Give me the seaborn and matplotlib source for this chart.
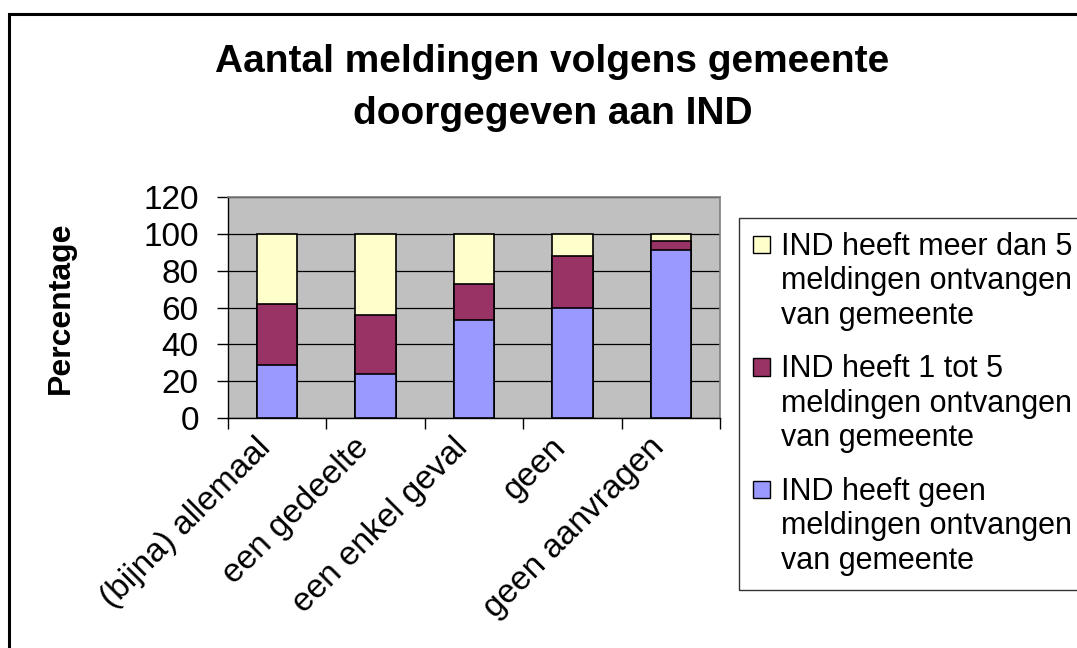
import matplotlib
matplotlib.use("Agg")
import matplotlib.pyplot as plt
import matplotlib.transforms as mtransforms
from matplotlib.patches import Rectangle
from matplotlib.legend_handler import HandlerPatch
import numpy as np
import pandas as pd
import seaborn as sns

categories = ["(bijna) allemaal", "een gedeelte", "een enkel geval", "geen", "geen aanvragen"]
geen = [29, 24, 53, 60, 91]          # IND heeft geen meldingen
een_tot_vijf = [33, 32, 20, 28, 5]   # IND heeft 1 tot 5 meldingen
meer_dan_vijf = [38, 44, 27, 12, 4]  # IND heeft meer dan 5 meldingen

series_labels = [
    "IND heeft meer dan 5\nmeldingen ontvangen\nvan gemeente",
    "IND heeft 1 tot 5\nmeldingen ontvangen\nvan gemeente",
    "IND heeft geen\nmeldingen ontvangen\nvan gemeente",
]
colors = ["#FFFFCC", "#993366", "#9999FF"]

sns.set_style("white")
plt.rcParams["font.family"] = ["Liberation Sans", "DejaVu Sans"]
plt.rcParams["text.color"] = "black"
plt.rcParams["xtick.color"] = "black"
plt.rcParams["ytick.color"] = "black"
plt.rcParams["axes.labelcolor"] = "black"

df = pd.DataFrame({
    "cat": categories,
    "blue": geen,
    "red": een_tot_vijf,
    "yellow": meer_dan_vijf,
})
# cumulative heights, drawn back to front
df["top_red"] = df["blue"] + df["red"]
df["top_yellow"] = df["top_red"] + df["yellow"]

fig = plt.figure(figsize=(10.77, 6.48), dpi=100)
ax = fig.add_axes([228 / 1077, 1 - 418 / 648, 492 / 1077, 221 / 648])
ax.set_facecolor("#C0C0C0")

for col, color in zip(["top_yellow", "top_red", "blue"], colors):
    sns.barplot(data=df, x="cat", y=col, color=color, width=0.41,
                edgecolor="black", linewidth=1.2, saturation=1, ax=ax, zorder=3)

ax.set_ylim(0, 120)
ax.set_xlim(-0.5, len(categories) - 0.5)
ax.set_yticks(np.arange(0, 121, 20))
ax.yaxis.grid(True, color="black", linewidth=0.9, zorder=0)
ax.set_axisbelow(True)

for side in ["top", "right"]:
    ax.spines[side].set_color("#808080")
    ax.spines[side].set_linewidth(1.2)
for side in ["left", "bottom"]:
    ax.spines[side].set_color("black")
    ax.spines[side].set_linewidth(1.0)

ax.tick_params(axis="y", direction="out", length=8, width=1, labelsize=24, pad=13, left=True)
ax.set_xticks(range(len(categories)))
ax.set_xticklabels(categories, rotation=45, ha="right", rotation_mode="anchor", fontsize=24)
ax.tick_params(axis="x", length=0, pad=10)
shift = mtransforms.ScaledTranslation(-22 / 100, 0, fig.dpi_scale_trans)
for lbl in ax.get_xticklabels():
    lbl.set_transform(lbl.get_transform() + shift)
ax.set_xticks(np.arange(-0.5, len(categories), 1), minor=True)
ax.tick_params(axis="x", which="minor", direction="out", length=8, width=1, bottom=True)

ax.set_xlabel("")
ax.set_ylabel("Percentage", fontsize=23, fontweight="bold")
ax.yaxis.set_label_coords(76 / 1077, 1 - 308 / 648, transform=fig.transFigure)

fig.text(0.513, 0.864, "Aantal meldingen volgens gemeente\ndoorgegeven aan IND",
         ha="center", va="center", fontsize=28, fontweight="bold", linespacing=1.55)


class TopSquare(HandlerPatch):
    # put the colour square next to the first line of a multi-line label
    def create_artists(self, legend, orig_handle, xdescent, ydescent,
                       width, height, fontsize, trans):
        size = 12.5
        p = Rectangle((-xdescent, -ydescent + height / 2 - size / 2 + 27), size, size,
                      facecolor=orig_handle.get_facecolor(), edgecolor="black",
                      linewidth=1, transform=trans)
        return [p]


handles = [Rectangle((0, 0), 1, 1, facecolor=c) for c in colors]
leg = fig.legend(handles, series_labels, loc="upper left",
                 bbox_to_anchor=(739 / 1077, 1 - 218 / 648), fontsize=22,
                 frameon=True, fancybox=False, handlelength=0.58, handletextpad=0.36,
                 borderpad=0.45, labelspacing=0.76, borderaxespad=0,
                 handler_map={Rectangle: TopSquare()})
for t in leg.get_texts():
    t.set_linespacing(1.2)
leg.get_frame().set_edgecolor("black")
leg.get_frame().set_linewidth(1.0)

# outer chart border
fig.patches.append(Rectangle((9 / 1077, -0.1), 1.2, 1.1 - 14 / 648, transform=fig.transFigure,
                             fill=False, edgecolor="black", linewidth=2.2))

fig.savefig("out.png", dpi=100)
